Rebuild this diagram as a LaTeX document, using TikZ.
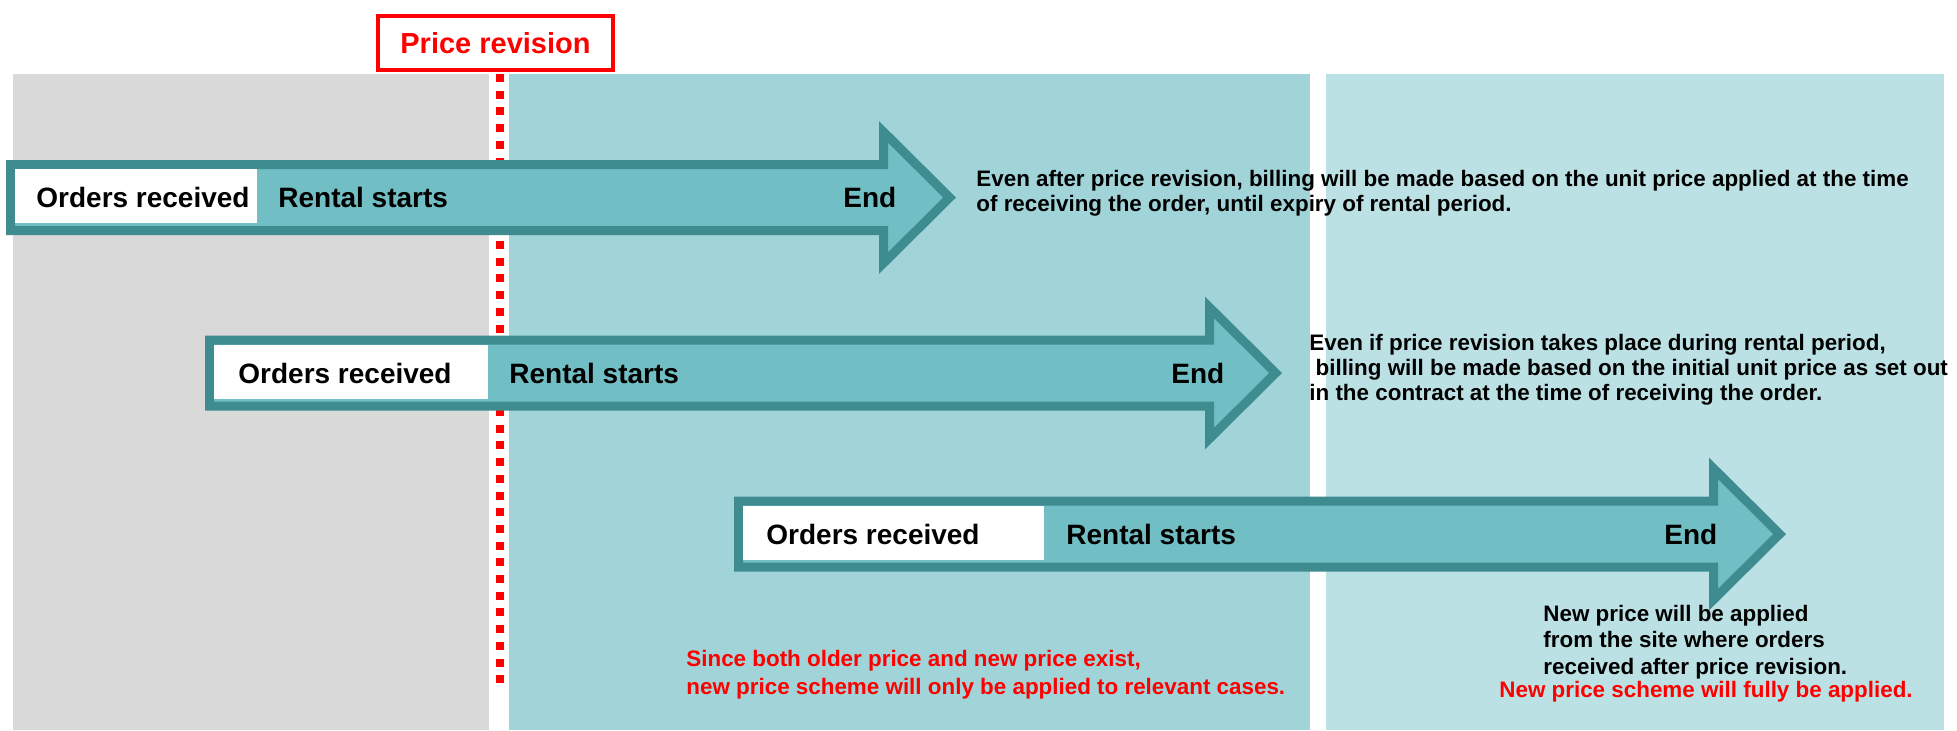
\documentclass[tikz,border=0pt]{standalone}
\usepackage{fontspec}
\setmainfont{Liberation Sans}
\definecolor{panelgray}{HTML}{D9D9D9}
\definecolor{panelteal}{HTML}{A0D4D8}
\definecolor{panellight}{HTML}{BCE1E4}
\definecolor{arrowfill}{HTML}{71BEC4}
\definecolor{arrowline}{HTML}{3E8B90}
\definecolor{pricered}{HTML}{FF0000}
\newcommand{\rentarrow}[3]{%
  \draw[rentshape] ({#1+4.5},{#2-33}) -- ({#3+4.5},{#2-33}) -- ({#3+4.5},{#2-65.6})
    -- ({#3+70.6},#2) -- ({#3+4.5},{#2+65.6}) -- ({#3+4.5},{#2+33})
    -- ({#1+4.5},{#2+33}) -- cycle;}
\begin{document}
\begin{tikzpicture}[x=0.5pt,y=-0.5pt,
  rentshape/.style={fill=arrowfill, draw=arrowline, line width=4.5pt, line join=miter},
  orderbox/.style={fill=white},
  lbl/.style={font=\fontsize{14}{16}\selectfont\bfseries, inner sep=0pt, anchor=west},
  desc/.style={font=\fontsize{11.2}{12.5}\selectfont\bfseries, inner sep=0pt, anchor=north west, align=left},
  reddesc/.style={desc, text=pricered, font=\fontsize{11.2}{14}\selectfont\bfseries},
  pricebox/.style={draw=pricered, line width=2pt, fill=white, text=pricered,
    font=\fontsize{14.5}{16}\selectfont\bfseries, minimum width=117.5pt, minimum height=27pt, inner sep=0pt},
  revline/.style={draw=pricered, line width=4.25pt, dash pattern=on 4pt off 4.35pt}
]
\useasboundingbox (0,0) rectangle (1957,730);
% panels
\fill[panelgray] (13,74) rectangle (489,730);
\fill[panelteal] (509,74) rectangle (1310,730);
\fill[panellight] (1326,74) rectangle (1944,730);
% price revision marker
\node[pricebox] (price) at (495.5,43) {Price revision};
\coordinate (revtop) at (500,74);
\coordinate (revbot) at (500,688);
\draw[revline] (revtop) -- (revbot);
% arrow 1
\rentarrow{6}{197.5}{879}
\fill[orderbox] (15,169) rectangle (257,223);
\node[lbl] (or1) at (36,197.5) {Orders received};
\node[lbl] (rs1) at (278,197.5) {Rental starts};
\node[lbl] (end1) at (843,197.5) {End};
% arrow 2
\rentarrow{205}{373}{1205}
\fill[orderbox] (214,344.5) rectangle (488,399);
\node[lbl] (or2) at (238,373) {Orders received};
\node[lbl] (rs2) at (509,373) {Rental starts};
\node[lbl] (end2) at (1171,373) {End};
% arrow 3
\rentarrow{734}{534}{1709}
\fill[orderbox] (743,505.5) rectangle (1044,560);
\node[lbl] (or3) at (766,534) {Orders received};
\node[lbl] (rs3) at (1066,534) {Rental starts};
\node[lbl] (end3) at (1664,534) {End};
% descriptions
\node[desc] (d1) at (976,169.5) {Even after price revision, billing will be made based on the unit price applied at the time\\of receiving the order, until expiry of rental period.};
\node[desc] (d2) at (1309,333.5) {Even if price revision takes place during rental period,\\\hspace*{3.1pt}billing will be made based on the initial unit price as set out\\in the contract at the time of receiving the order.};
\node[desc, font=\fontsize{11.2}{13.25}\selectfont\bfseries] (d3) at (1543,604.5) {New price will be applied\\from the site where orders\\received after price revision.};
\node[reddesc, anchor=north] (d4) at (1706,680.5) {New price scheme will fully be applied.};
\node[reddesc] (d5) at (686,649.5) {Since both older price and new price exist,\\new price scheme will only be applied to relevant cases.};
\end{tikzpicture}
\end{document}
